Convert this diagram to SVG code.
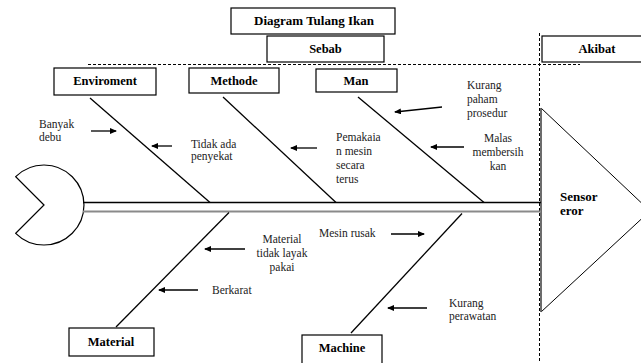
<svg xmlns="http://www.w3.org/2000/svg" width="641" height="363" viewBox="0 0 641 363" font-family="'Liberation Serif', serif">
<style>
.box{fill:#fff;stroke:#000;stroke-width:1.2}
.bone{stroke:#000;stroke-width:1.3;fill:none}
.arr{stroke:#000;stroke-width:1.3;fill:none;marker-end:url(#ah)}
.dash{stroke:#000;stroke-width:1;stroke-dasharray:3 2;fill:none}
text{font-family:'Liberation Serif', serif}
.lbl{font-weight:bold;font-size:12.5px;fill:#000;text-anchor:middle}
.t{font-size:11.5px;fill:#222}
.c{text-anchor:middle}
.s{text-anchor:start}
</style>
<defs>
<marker id="ah" markerWidth="7" markerHeight="6" refX="6" refY="3" orient="auto" markerUnits="userSpaceOnUse">
<path d="M0,0 L7,3 L0,6 z" fill="#000"/>
</marker>
</defs>
<rect width="641" height="363" fill="#fff"/>

<g id="dividers">
<line class="dash" x1="88" y1="64.5" x2="580" y2="64.5"/>
<line class="dash" x1="539.5" y1="33" x2="539.5" y2="363"/>
</g>

<g id="title">
<rect class="box" x="231" y="8" width="164" height="26"/>
<text class="lbl" x="314" y="25" style="font-size:13px">Diagram Tulang Ikan</text>
</g>
<g id="sebab">
<rect class="box" x="267" y="36" width="117" height="26"/>
<text class="lbl" x="325.5" y="53">Sebab</text>
</g>
<g id="akibat">
<rect class="box" x="542" y="36" width="104" height="26"/>
<text class="lbl" x="597" y="53">Akibat</text>
</g>

<g id="head">
<path d="M44,205 L15.7,176.7 A40,40 0 1 1 15.7,233.3 Z" fill="#fff" stroke="#000" stroke-width="1.2"/>
</g>

<g id="effect">
<polygon points="541,108 650,211 541,312" fill="#fff" stroke="#000" stroke-width="1"/>
<line x1="541" y1="108" x2="541" y2="312" stroke="#666" stroke-width="1.5"/>
<text class="lbl s" x="560" y="201" style="font-size:13px">Sensor</text>
<text class="lbl s" x="560" y="215" style="font-size:13px">eror</text>
</g>

<g id="connectors">
<line x1="83" y1="202.5" x2="541" y2="202.5" stroke="#000" stroke-width="1.3"/>
<line x1="83" y1="211.5" x2="541" y2="211.5" stroke="#8a8a8a" stroke-width="1.8"/>
<line class="bone" x1="90" y1="98" x2="210" y2="202.5"/>
<line class="bone" x1="223" y1="97" x2="336" y2="202.5"/>
<line class="bone" x1="358" y1="97" x2="484" y2="202.5"/>
<line class="bone" x1="229" y1="212.5" x2="116" y2="327"/>
<line class="bone" x1="462" y1="213.5" x2="351" y2="333"/>
<line class="arr" x1="91" y1="131" x2="116" y2="131"/>
<line class="arr" x1="172" y1="146" x2="152" y2="146"/>
<line class="arr" x1="317" y1="148" x2="291" y2="148"/>
<line class="arr" x1="442" y1="107" x2="395" y2="112"/>
<line class="arr" x1="464" y1="147" x2="431" y2="147"/>
<line class="arr" x1="391" y1="234" x2="424" y2="234"/>
<line class="arr" x1="245" y1="249" x2="205" y2="249"/>
<line class="arr" x1="198" y1="290" x2="159" y2="290"/>
<line class="arr" x1="427" y1="308" x2="388" y2="308"/>
</g>

<g id="enviroment">
<rect class="box" x="54" y="68" width="102" height="27"/>
<text class="lbl" x="105" y="85">Enviroment</text>
</g>
<g id="methode">
<rect class="box" x="189" y="68" width="90" height="25"/>
<text class="lbl" x="234" y="85">Methode</text>
</g>
<g id="man">
<rect class="box" x="316" y="69" width="81" height="23"/>
<text class="lbl" x="356" y="85">Man</text>
</g>
<g id="material">
<rect class="box" x="69" y="328" width="85" height="28"/>
<text class="lbl" x="111" y="346">Material</text>
</g>
<g id="machine">
<rect class="box" x="302" y="335" width="80" height="32"/>
<text class="lbl" x="342" y="352">Machine</text>
</g>

<g id="causes">
<text class="t" x="39" y="128">Banyak</text>
<text class="t" x="39" y="141">debu</text>
<text class="t" x="191" y="148">Tidak ada</text>
<text class="t" x="191" y="160">penyekat</text>
<text class="t" x="336" y="141">Pemakaia</text>
<text class="t" x="336" y="155">n mesin</text>
<text class="t" x="336" y="169">secara</text>
<text class="t" x="336" y="183">terus</text>
<text class="t" x="467" y="89">Kurang</text>
<text class="t" x="467" y="103">paham</text>
<text class="t" x="467" y="117">prosedur</text>
<text class="t c" x="498" y="142">Malas</text>
<text class="t c" x="498" y="156">membersih</text>
<text class="t c" x="498" y="170">kan</text>
<text class="t" x="319" y="237">Mesin rusak</text>
<text class="t c" x="282" y="243">Material</text>
<text class="t c" x="282" y="257">tidak layak</text>
<text class="t c" x="282" y="271">pakai</text>
<text class="t" x="212" y="294">Berkarat</text>
<text class="t" x="449" y="307">Kurang</text>
<text class="t" x="449" y="320">perawatan</text>
</g>
</svg>
